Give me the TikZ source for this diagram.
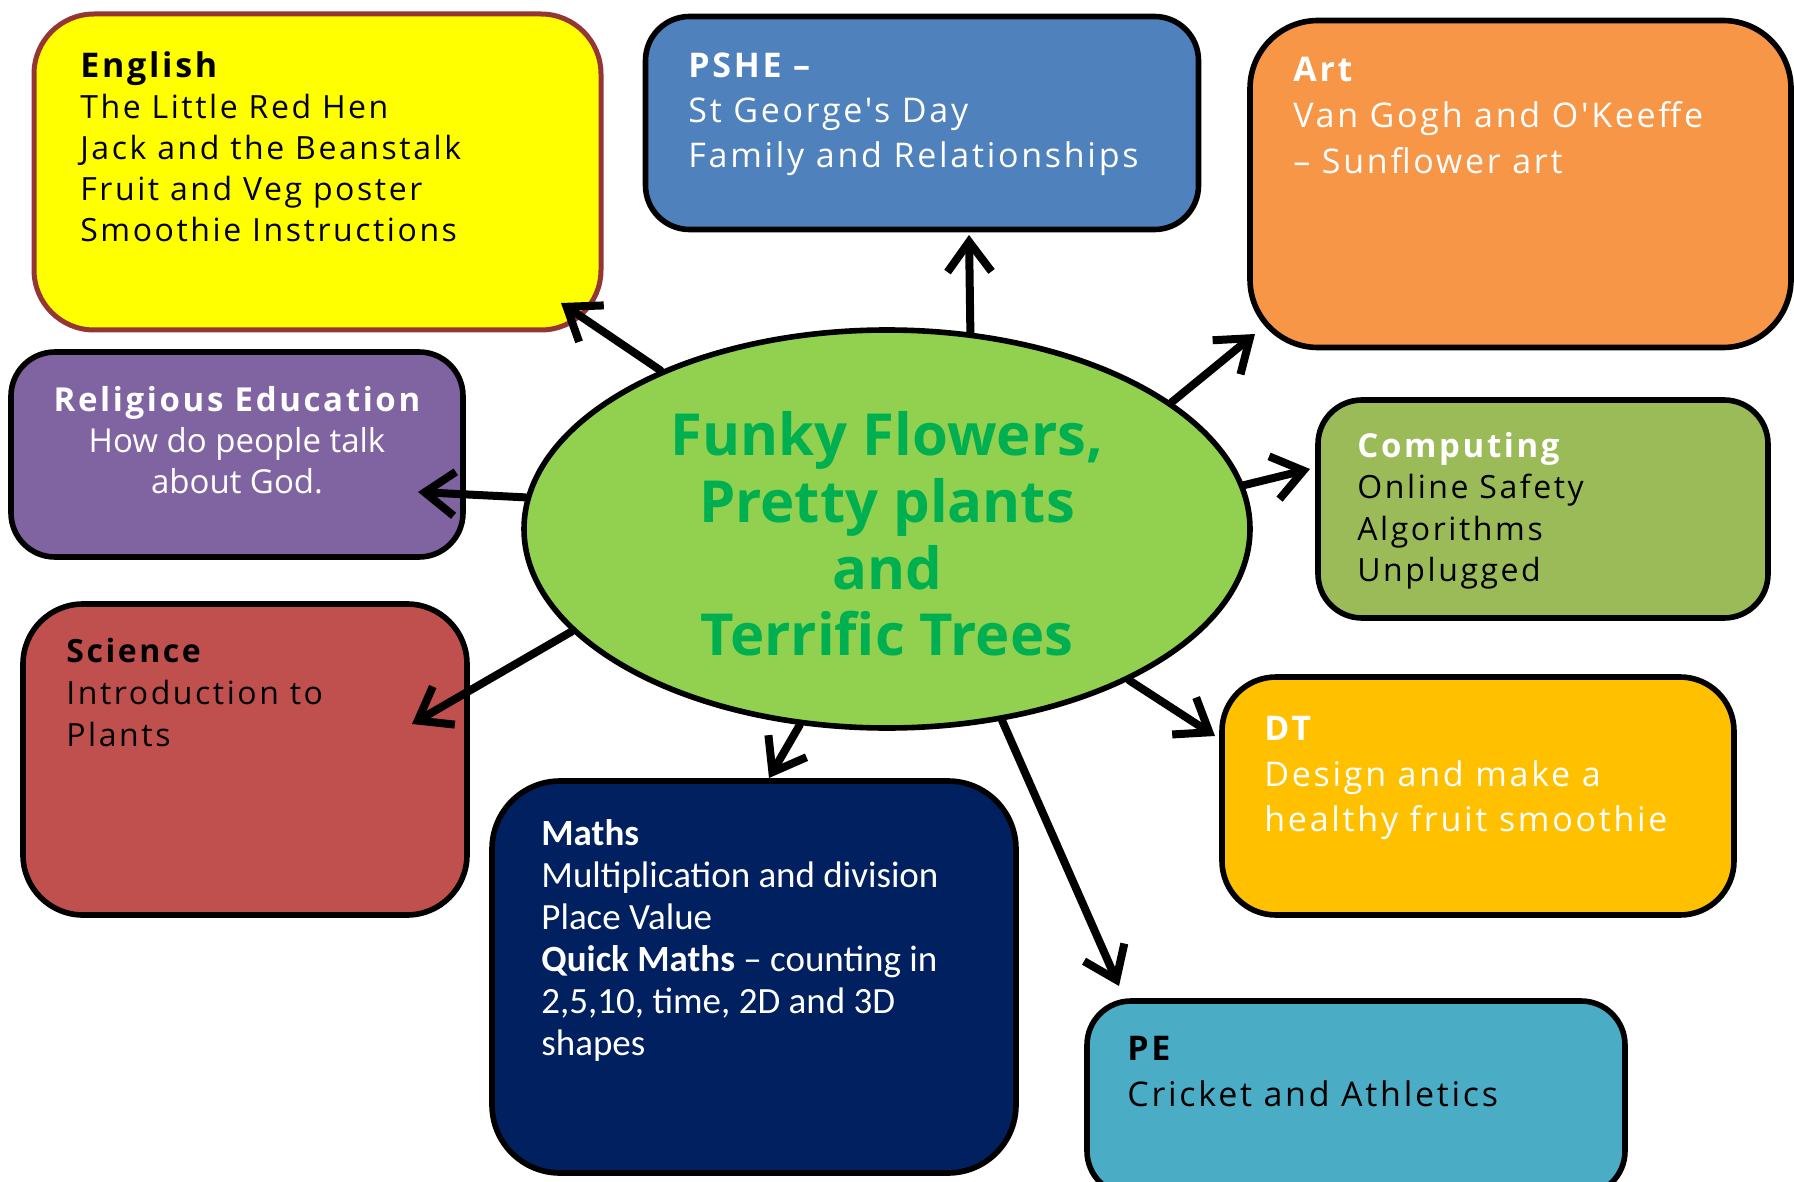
\documentclass[tikz,border=0pt]{standalone}
\usepackage{fontspec}
\setmainfont{Open Sans}
\newfontfamily\sass[LetterSpace=8]{Open Sans}
\newfontfamily\calib{Carlito}
\usetikzlibrary{arrows.meta,shapes.geometric}
\definecolor{engfill}{HTML}{FFFF00}
\definecolor{engdraw}{HTML}{943634}
\definecolor{psheblue}{HTML}{4F81BD}
\definecolor{artorange}{HTML}{F79646}
\definecolor{repurple}{HTML}{8064A2}
\definecolor{compgreen}{HTML}{9BBB59}
\definecolor{scired}{HTML}{C0504D}
\definecolor{mathsnavy}{HTML}{002060}
\definecolor{dtgold}{HTML}{FFC000}
\definecolor{peteal}{HTML}{4BACC6}
\definecolor{ellgreen}{HTML}{92D050}
\definecolor{titlegreen}{HTML}{00B050}
\begin{document}
\begin{tikzpicture}[x=0.5pt,y=-0.5pt,
  box/.style={draw=black,line width=2.8pt,inner sep=0pt},
  arr/.style={line width=4pt,line cap=round,-{Straight Barb[length=15pt,width=22pt]}},
  txt/.style={anchor=north west,inner sep=0pt,align=left},
  body/.style={font=\sass\fontsize{16}{20.5}\selectfont}]
\useasboundingbox (0,0) rectangle (1794,1182);
\clip (0,0) rectangle (1794,1182);
\fill[white] (0,0) rectangle (1794,1182);

% boxes
\node[box,draw=engdraw,line width=2.5pt,fill=engfill,rounded corners=30pt,minimum width=283.5pt,minimum height=158pt] (eng) at (317.5,172) {};
\node[box,fill=psheblue,rounded corners=22pt,minimum width=276.5pt,minimum height=106.5pt] (pshe) at (922,123) {};
\node[box,fill=artorange,rounded corners=34pt,minimum width=270.5pt,minimum height=163.5pt] (art) at (1520.5,184) {};
\node[box,fill=repurple,rounded corners=22pt,minimum width=226pt,minimum height=102.5pt] (re) at (237,454.5) {};
\node[box,fill=compgreen,rounded corners=22pt,minimum width=225pt,minimum height=109pt] (comp) at (1543,509) {};
\node[box,fill=scired,rounded corners=30pt,minimum width=222pt,minimum height=155.5pt] (sci) at (245,759.5) {};
\node[box,fill=mathsnavy,rounded corners=34pt,minimum width=262pt,minimum height=196pt] (maths) at (754,977) {};
\node[box,fill=dtgold,rounded corners=27pt,minimum width=256pt,minimum height=119pt] (dt) at (1478,796) {};
\node[box,fill=peteal,rounded corners=22pt,minimum width=269pt,minimum height=97pt] (pe) at (1356,1098) {};

% centre
\node[ellipse,draw=black,line width=2.8pt,fill=ellgreen,minimum width=363pt,minimum height=199pt,inner sep=0pt] (c) at (887,529) {};
\node[anchor=north,align=center,inner sep=0pt,text=titlegreen,font=\fontsize{29}{33.4}\selectfont\bfseries] (title) at (887,411) {Funky Flowers,\\Pretty plants\\and\\Terrific Trees};

% texts
\node[txt,body,text=black] (engt) at (80,51) {{\sass\fontsize{17}{20.5}\selectfont\bfseries English}\\The Little Red Hen\\Jack and the Beanstalk\\Fruit and Veg poster\\Smoothie Instructions};
\node[txt,text=white,font=\sass\fontsize{17}{22.5}\selectfont] (psht) at (688,52) {{\bfseries PSHE –}\\St George's Day\\Family and Relationships};
\node[txt,text=white,font=\sass\fontsize{17}{23}\selectfont] (artt) at (1293,57) {{\bfseries Art}\\Van Gogh and O'Keeffe\\– Sunflower art};
\node[anchor=north,inner sep=0pt,align=center,text=white,font=\fontsize{16.5}{20.5}\selectfont] (ret) at (237,386) {{\sass\fontsize{16.5}{20.5}\selectfont\bfseries Religious Education}\\How do people talk\\about God.};
\node[txt,text=black,font=\sass\fontsize{16}{20.75}\selectfont] (compt) at (1357,432) {\textcolor{white}{\fontsize{16.5}{20.75}\selectfont\bfseries Computing}\\Online Safety\\Algorithms\\Unplugged};
\node[txt,text=black,font=\sass\fontsize{16}{21}\selectfont] (scit) at (66,638) {{\bfseries Science}\\Introduction to\\Plants};
\node[txt,text=white,font=\calib\fontsize{18.5}{21}\selectfont] (mathst) at (541,819) {{\bfseries Maths}\\Multiplication and division\\Place Value\\{\bfseries Quick Maths} – counting in\\2,5,10, time, 2D and 3D\\shapes};
\node[txt,text=white,font=\sass\fontsize{17}{22.75}\selectfont] (dtt) at (1264,716) {{\bfseries DT}\\Design and make a\\healthy fruit smoothie};
\node[txt,text=black,font=\sass\fontsize{17}{22.75}\selectfont] (pet) at (1127,1036) {{\bfseries PE}\\Cricket and Athletics};

% arrow tips
\coordinate (teng) at (561,303);
\coordinate (tpshe) at (969,235);
\coordinate (tart) at (1255,334);
\coordinate (tre) at (418,492);
\coordinate (tcomp) at (1310,469);
\coordinate (tsci) at (412,724);
\coordinate (tmath) at (769,778);
\coordinate (tdt) at (1215,736);
\coordinate (tpe) at (1119,986);

\draw[arr] (c.145.2) -- (teng);
\draw[arr] (c.67) -- (tpshe);
\draw[arr] (c.24.2) -- (tart);
\draw[arr] (c.175.9) -- (tre);
\draw[arr] (c.7.5) -- (tcomp);
\draw[arr] (c.198.9) -- (tsci);
\draw[arr] (c.246.8) -- (tmath);
\draw[arr] (c.328) -- (tdt);
\draw[arr] (c.301.8) -- (tpe);
\end{tikzpicture}
\end{document}
